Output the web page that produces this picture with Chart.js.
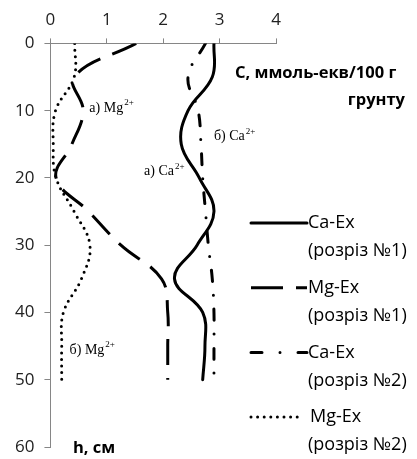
<!DOCTYPE html>
<html>
<head>
<meta charset="utf-8">
<script src="https://cdn.jsdelivr.net/npm/chart.js@4.4.0/dist/chart.umd.min.js"></script>
<style>
  html, body { margin: 0; padding: 0; background: #fff; }
</style>
</head>
<body>
<canvas id="profile" width="417" height="459"></canvas>
<script>
// depth below surface, cm
const depth = [0, 5, 10, 15, 20, 25, 30, 35, 40, 45, 50];
// exchangeable cations, mmol-eq / 100 g soil
const caEx1 = [2.9, 2.87, 2.44, 2.32, 2.64, 2.9, 2.6, 2.2, 2.7, 2.74, 2.7];
const mgEx1 = [1.52, 0.42, 0.58, 0.38, 0.1, 0.68, 1.25, 1.97, 2.08, 2.08, 2.08];
const caEx2 = [2.75, 2.44, 2.62, 2.67, 2.7, 2.75, 2.8, 2.87, 2.9, 2.9, 2.9];
const mgEx2 = [0.43, 0.42, 0.09, 0.05, 0.1, 0.42, 0.7, 0.55, 0.23, 0.2, 0.2];

const seriesNames = [
    ['Ca-Ex', '(розріз №1)'],
    ['Mg-Ex', '(розріз №1)'],
    ['Ca-Ex', '(розріз №2)'],
    ['Mg-Ex', '(розріз №2)'],
];
const xTicks = [0, 1, 2, 3, 4];
const yTicks = [0, 10, 20, 30, 40, 50, 60];

const pts = vals => vals.map((v, i) => ({ x: v, y: depth[i] }));

function lineStyle(dash, cap) {
    return {
        borderColor: '#000',
        borderWidth: 3,
        borderDash: dash,
        borderCapStyle: cap,
        pointRadius: 0,
        showLine: true,
        tension: 0.4,
        fill: false,
    };
}

// labels drawn inside the plot (Excel text boxes)
const notes = [
    { x: 0.69, y: 9.6, text: 'а) Mg', sup: '2+' },
    { x: 2.9, y: 13.8, text: 'б) Ca', sup: '2+' },
    { x: 1.66, y: 19, text: 'а) Ca', sup: '2+' },
    { x: 0.34, y: 45.6, text: 'б) Mg', sup: '2+' },
];

const textPlugin = {
    id: 'texts',
    afterDraw(chart) {
        const ctx = chart.ctx;
        const sx = chart.scales.x, sy = chart.scales.y;
        ctx.save();
        ctx.fillStyle = '#000';
        ctx.textBaseline = 'middle';
        ctx.textAlign = 'left';

        notes.forEach(n => {
            const px = sx.getPixelForValue(n.x), py = sy.getPixelForValue(n.y);
            ctx.font = '14px "Liberation Serif"';
            ctx.fillText(n.text, px, py);
            const w = ctx.measureText(n.text).width;
            ctx.font = '9px "Liberation Serif"';
            ctx.fillText(n.sup, px + w + 1, py - 5);
        });

        // axis captions
        ctx.font = 'bold 16.5px "Open Sans"';
        ctx.fillText('С, ммоль-екв/100 г', 235, 73);
        ctx.textAlign = 'right';
        ctx.fillText('грунту', 405, 100);
        ctx.textAlign = 'left';
        ctx.fillText('h, см', 73, 448);

        // legend
        chart.data.datasets.forEach((ds, i) => {
            const y0 = 223 + i * 64.7;
            ctx.save();
            ctx.strokeStyle = ds.borderColor;
            ctx.lineWidth = ds.borderWidth;
            ctx.lineCap = ds.borderCapStyle;
            ctx.setLineDash(ds.legendDash || ds.borderDash);
            ctx.beginPath();
            ctx.moveTo(251, y0);
            ctx.lineTo(i === 3 ? 302 : 307, y0);
            ctx.stroke();
            ctx.restore();
            ctx.font = '18px "Open Sans"';
            ctx.fillStyle = '#000';
            ctx.fillText(seriesNames[i][0], i === 3 ? 310 : 308, y0);
            ctx.fillText(seriesNames[i][1], 308, y0 + 28);
        });
        ctx.restore();
    }
};

new Chart(document.getElementById('profile'), {
    type: 'scatter',
    data: {
        datasets: [
            { label: seriesNames[0].join(' '), data: pts(caEx1), ...lineStyle([], 'round') },
            { label: seriesNames[1].join(' '), data: pts(mgEx1), ...lineStyle([26, 13], 'butt'), legendDash: [32, 13] },
            { label: seriesNames[2].join(' '), data: pts(caEx2), ...lineStyle([11, 14, 0, 14], 'round'), legendDash: [11, 18, 0, 18] },
            { label: seriesNames[3].join(' '), data: pts(mgEx2), ...lineStyle([0, 6.6], 'round') },
        ]
    },
    options: {
        responsive: false,
        animation: false,
        layout: { padding: { left: 5, top: 2, right: 141, bottom: 12 } },
        plugins: {
            legend: { display: false },
            tooltip: { enabled: false },
        },
        scales: {
            x: {
                type: 'linear',
                position: 'top',
                min: 0,
                max: 4,
                afterBuildTicks: axis => { axis.ticks = xTicks.map(v => ({ value: v })); },
                grid: { drawOnChartArea: false, tickLength: 5, color: '#868686' },
                border: { color: '#868686' },
                ticks: { font: { family: 'Open Sans', size: 17 }, color: '#222', padding: 8 },
            },
            y: {
                type: 'linear',
                reverse: true,
                min: 0,
                max: 60,
                afterBuildTicks: axis => { axis.ticks = yTicks.map(v => ({ value: v })); },
                afterFit: axis => { axis.paddingBottom = 0; },
                grid: { drawOnChartArea: false, tickLength: 6, color: '#868686' },
                border: { color: '#868686' },
                ticks: { font: { family: 'Open Sans', size: 17 }, color: '#222', padding: 10 },
            }
        }
    },
    plugins: [textPlugin]
});
</script>
</body>
</html>
